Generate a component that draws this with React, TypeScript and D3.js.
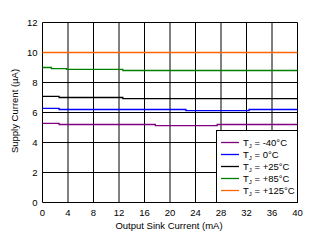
import React from 'react';
import * as d3 from 'd3';

const xTicks = [0, 4, 8, 12, 16, 20, 24, 28, 32, 36, 40];
const yTicks = [0, 2, 4, 6, 8, 10, 12];

const seriesNames = ['-40°C', '0°C', '+25°C', '+85°C', '+125°C'];
const seriesColors = ['#800080', '#0000FF', '#000000', '#008000', '#FF6600'];

const minus40: [number, number][] = [[0, 5.27], [2.6, 5.2], [17.7, 5.13], [27.4, 5.2], [40, 5.2]];
const zero: [number, number][] = [[0, 6.27], [2.6, 6.2], [22.5, 6.13], [32.4, 6.2], [40, 6.2]];
const plus25: [number, number][] = [[0, 7.07], [2.6, 7.0], [12.6, 6.93], [40, 6.93]];
const plus85: [number, number][] = [[0, 9.0], [1.4, 8.93], [3.8, 8.87], [12.6, 8.8], [40, 8.8]];
const plus125: [number, number][] = [[0, 10.0], [40, 10.0]];

const seriesData = [minus40, zero, plus25, plus85, plus125];

export default function App() {
  const W = 317, H = 243;
  const x = d3.scaleLinear().domain([0, 40]).range([42.5, 297.5]);
  const y = d3.scaleLinear().domain([0, 12]).range([202.5, 22.5]);
  const line = d3.line<[number, number]>()
    .x(d => x(d[0]))
    .y(d => y(d[1]))
    .curve(d3.curveStepAfter);
  const font = 'Liberation Sans, Arial, sans-serif';
  const lx = 216.5, ly = 130.5;
  return (
    <svg width={W} height={H} style={{ position: 'absolute', left: 0, top: 0, background: '#fff' }} fontFamily={font}>
      <rect width={W} height={H} fill="#fff" />
      {xTicks.map(t => (
        <line key={'gx' + t} x1={x(t)} x2={x(t)} y1={y(0)} y2={y(12)} stroke="#000" strokeWidth={1} />
      ))}
      {yTicks.map(t => (
        <line key={'gy' + t} x1={x(0)} x2={x(40)} y1={y(t)} y2={y(t)} stroke="#000" strokeWidth={1} />
      ))}
      {seriesData.map((s, i) => (
        <path key={'s' + i} d={line(s) || ''} fill="none" stroke={seriesColors[i]} strokeWidth={1.3} />
      ))}
      <rect x={lx} y={ly} width={x(40) - lx} height={y(0) - ly} fill="#fff" stroke="#000" strokeWidth={1} />
      {seriesNames.map((n, i) => {
        const yy = 142.5 + i * 12;
        return (
          <g key={'l' + i}>
            <line x1={221} x2={239} y1={yy} y2={yy} stroke={seriesColors[i]} strokeWidth={1.3} />
            <text x={243} y={yy + 3.3} fontSize={9.5} fill="#000">
              T<tspan fontSize={6} dy={2}>J</tspan><tspan dy={-2}>{' = ' + n}</tspan>
            </text>
          </g>
        );
      })}
      {xTicks.map(t => (
        <text key={'tx' + t} x={x(t)} y={216} fontSize={9.5} textAnchor="middle" fill="#000">{t}</text>
      ))}
      {yTicks.map(t => (
        <text key={'ty' + t} x={37.5} y={y(t) + 3.3} fontSize={9.5} textAnchor="end" fill="#000">{t}</text>
      ))}
      <text x={169} y={229} fontSize={9.5} textAnchor="middle" fill="#000">Output Sink Current (mA)</text>
      <text transform={`translate(18,111) rotate(-90)`} fontSize={9.5} textAnchor="middle" fill="#000">Supply Current (µA)</text>
    </svg>
  );
}
